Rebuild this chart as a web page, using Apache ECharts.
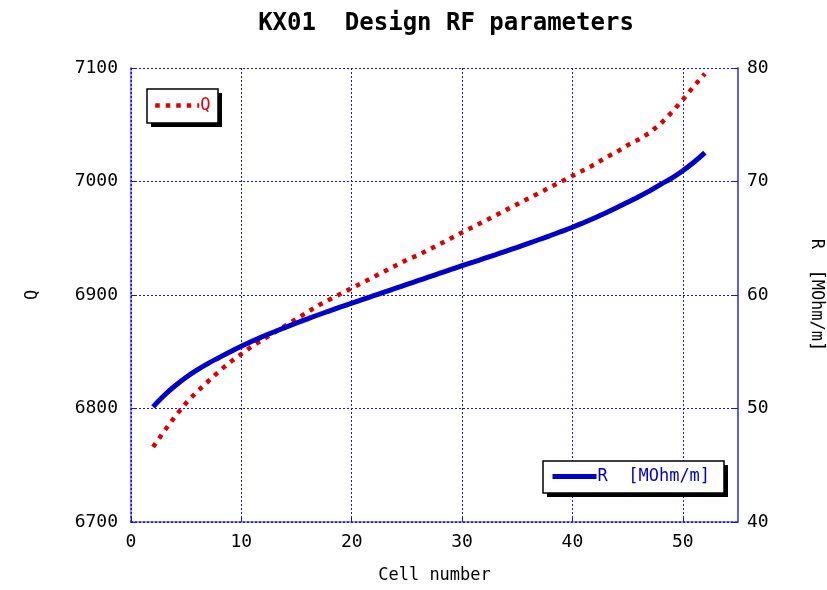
<!DOCTYPE html>
<html>
<head>
<meta charset="utf-8">
<script src="https://cdn.jsdelivr.net/npm/echarts@6/dist/echarts.min.js"></script>
<style>
  html, body { margin: 0; padding: 0; background: #ffffff; }
  #chart { width: 827px; height: 590px; }
</style>
</head>
<body>
<div id="chart"></div>
<script>
// Cell index along the structure
const cells = [2,3,4,5,6,7,8,9,10,11,12,13,14,15,16,17,18,19,20,21,22,23,24,25,26,27,
  28,29,30,31,32,33,34,35,36,37,38,39,40,41,42,43,44,45,46,47,48,49,50,51,52];

// Quality factor per cell
const qValues = [6766,6780,6793,6805,6815,6824,6833,6841,6848,6855,6861,6867,6873,6879,6885,
  6891,6896,6901,6906,6911,6916,6921,6926,6931,6935,6940,6945,6950,6955,6960,6965,6970,6975,
  6980,6985,6990,6995,7000,7005,7010,7015,7021,7026,7032,7037,7043,7051,7061,7072,7084,7095];

// Shunt impedance per cell [MOhm/m]
const rValues = [50.15,51.15,52.0,52.75,53.4,53.98,54.5,55.0,55.48,55.94,56.36,56.76,57.15,
  57.53,57.9,58.26,58.61,58.95,59.28,59.61,59.94,60.27,60.6,60.93,61.26,61.59,61.92,62.25,
  62.58,62.9,63.22,63.54,63.87,64.2,64.54,64.89,65.24,65.6,65.97,66.37,66.79,67.23,67.69,
  68.17,68.65,69.18,69.75,70.3,70.95,71.7,72.55];

const titleText = 'KX01  Design RF parameters';
const qName = 'Q';
const rName = 'R  [MOhm/m]';
const xName = 'Cell number';

const FONT = '"DejaVu Sans Mono", monospace';
const RED = '#dd0000';
const BLUE = '#0000cc';
const GRID_BLUE = '#1010f0';

const qLine = { color: RED, width: 4.5, type: [4.5, 6], cap: 'butt' };
const rLine = { color: BLUE, width: 5, type: 'solid' };

const chart = echarts.init(document.getElementById('chart'), null, { renderer: 'canvas' });

const gridLine = { show: true, lineStyle: { color: GRID_BLUE, type: [2, 2], width: 1 } };
const tickStyle = { show: true, inside: true, length: 5, lineStyle: { color: GRID_BLUE, width: 1 } };
const labelStyle = { color: '#000', fontFamily: FONT, fontSize: 18 };

// Framed legend box with a hard black drop shadow
function legendFrame(x, y, w, h) {
  return [
    { type: 'rect', z: 20, silent: true, shape: { x: x + 4, y: y + 4, width: w, height: h },
      style: { fill: '#000' } },
    { type: 'rect', z: 21, silent: true, shape: { x: x, y: y, width: w, height: h },
      style: { fill: '#fff', stroke: '#000', lineWidth: 1.5 } }
  ];
}

function legendItem(name, color, line, pos) {
  return Object.assign({
    data: [{ name: name, textStyle: { color: color } }],
    z: 30,
    itemWidth: 44,
    itemHeight: 14,
    itemGap: 0,
    padding: 0,
    selectedMode: false,
    itemStyle: { color: 'rgba(0,0,0,0)', borderWidth: 0 },
    lineStyle: line,
    textStyle: { fontFamily: FONT, fontSize: 17, color: color, padding: [0, 0, 0, -4] }
  }, pos);
}

chart.setOption({
  animation: false,
  backgroundColor: '#fff',
  title: {
    text: titleText,
    left: 441,
    top: 7,
    textAlign: 'center',
    textStyle: { fontFamily: FONT, fontSize: 24, fontWeight: 'bold', color: '#000' }
  },
  graphic: [].concat(legendFrame(147, 89, 71, 34), legendFrame(543, 461, 181, 32)),
  legend: [
    legendItem(qName, RED, qLine, { left: 153, top: 97 }),
    legendItem(rName, BLUE, rLine, { left: 550, top: 468 })
  ],
  grid: { left: 131, right: 89, top: 68, bottom: 68, containLabel: false, outerBoundsMode: 'none' },
  xAxis: {
    type: 'value',
    min: 0, max: 55, interval: 10,
    name: xName,
    nameLocation: 'middle',
    nameGap: 45,
    nameTextStyle: { fontFamily: FONT, fontSize: 17, color: '#000' },
    axisLine: { show: true, lineStyle: { color: GRID_BLUE, type: [2, 2], width: 1.5 } },
    axisTick: tickStyle,
    axisLabel: Object.assign({ margin: 11, showMaxLabel: false }, labelStyle),
    splitLine: gridLine
  },
  yAxis: [
    {
      type: 'value',
      position: 'left',
      min: 6700, max: 7100, interval: 100,
      name: qName,
      nameLocation: 'middle',
      nameGap: 90,
      nameTextStyle: { fontFamily: FONT, fontSize: 17, color: '#000' },
      axisLine: { show: true, lineStyle: { color: GRID_BLUE, type: [2, 2], width: 1.5 } },
      axisTick: tickStyle,
      axisLabel: Object.assign({ margin: 13, formatter: v => String(v) }, labelStyle),
      splitLine: gridLine
    },
    {
      type: 'value',
      position: 'right',
      min: 40, max: 80, interval: 10,
      name: rName,
      nameLocation: 'middle',
      nameGap: 70,
      nameRotate: -90,
      nameTextStyle: { fontFamily: FONT, fontSize: 17, color: '#000' },
      axisLine: { show: true, lineStyle: { color: '#6060ee', width: 2 } },
      axisTick: tickStyle,
      axisLabel: Object.assign({ margin: 9, formatter: v => String(v) }, labelStyle),
      splitLine: { show: false }
    }
  ],
  series: [
    {
      name: qName,
      type: 'line',
      yAxisIndex: 0,
      data: cells.map((c, i) => [c, qValues[i]]),
      symbol: 'none',
      smooth: false,
      itemStyle: { color: RED },
      lineStyle: qLine,
      z: 3
    },
    {
      name: rName,
      type: 'line',
      yAxisIndex: 1,
      data: cells.map((c, i) => [c, rValues[i]]),
      symbol: 'none',
      smooth: true,
      itemStyle: { color: BLUE },
      lineStyle: rLine,
      z: 4
    }
  ]
});
</script>
</body>
</html>
